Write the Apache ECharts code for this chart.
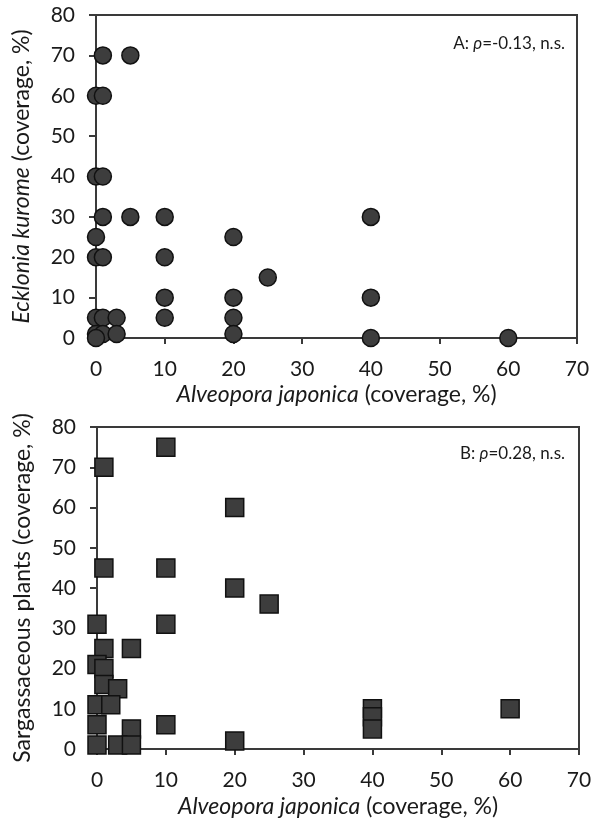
<!DOCTYPE html>
<html>
<head>
<meta charset="utf-8">
<script src="https://cdn.jsdelivr.net/npm/echarts@6/dist/echarts.min.js"></script>
<style>html,body{margin:0;padding:0;background:#fff}#c{width:600px;height:825px}</style>
</head>
<body>
<div id="c"></div>
<script>
// Panel A: Alveopora japonica vs Ecklonia kurome coverage (%)
const aX = [1, 5, 0, 1, 0, 1, 1, 5, 10, 40, 0, 20, 0, 1, 10, 25, 10, 20, 40, 0, 1, 3, 10, 20, 0, 1, 3, 20, 0, 40, 60];
const aY = [70, 70, 60, 60, 40, 40, 30, 30, 30, 30, 25, 25, 20, 20, 20, 15, 10, 10, 10, 5, 5, 5, 5, 5, 1, 1, 1, 1, 0, 0, 0];
// Panel B: Alveopora japonica vs Sargassaceous plants coverage (%)
const bX = [1, 10, 20, 1, 10, 20, 25, 0, 10, 1, 5, 0, 1, 1, 3, 0, 2, 0, 10, 5, 0, 3, 5, 20, 40, 40, 40, 60];
const bY = [70, 75, 60, 45, 45, 40, 36, 31, 31, 25, 25, 21, 20, 16, 15, 11, 11, 6, 6, 5, 1, 1, 1, 2, 10, 8, 5, 10];
const xTicks = [0, 10, 20, 30, 40, 50, 60, 70];
const yTicks = [0, 10, 20, 30, 40, 50, 60, 70, 80];
const annA = 'A: ';
const annB = 'B: ';
const rhoA = '-0.13';
const rhoB = '0.28';

const FONT = 'Lato';
const TXT = '#1a1a1a';
const AX = '#3a3a3a';
const NAME_FS = 23;
const TICK_FS = 21;
const ANN_FS = 17;

function pairs(xs, ys) { return xs.map((x, i) => [x, ys[i]]); }

function xAxis(gi, gap) {
  return {
    gridIndex: gi, type: 'value', min: xTicks[0], max: xTicks[xTicks.length - 1], interval: 10,
    name: '{i|Alveopora japonica} (coverage, %)', nameLocation: 'middle', nameGap: gap,
    nameTextStyle: { fontFamily: FONT, fontSize: NAME_FS, color: TXT,
      rich: { i: { fontStyle: 'italic', fontFamily: FONT, fontSize: NAME_FS, color: TXT } } },
    axisLine: { show: true, onZero: false, lineStyle: { color: AX, width: 2 } },
    axisTick: { show: true, inside: false, length: 6, lineStyle: { color: AX, width: 2 } },
    axisLabel: { fontFamily: FONT, fontSize: TICK_FS, color: TXT, margin: 21 },
    splitLine: { show: false }
  };
}
function yAxis(gi, name) {
  return {
    gridIndex: gi, type: 'value', min: yTicks[0], max: yTicks[yTicks.length - 1], interval: 10,
    name: name, nameLocation: 'middle', nameGap: 63,
    nameTextStyle: { fontFamily: FONT, fontSize: NAME_FS, color: TXT,
      rich: { i: { fontStyle: 'italic', fontFamily: FONT, fontSize: NAME_FS, color: TXT } } },
    axisLine: { show: true, onZero: false, lineStyle: { color: AX, width: 2 } },
    axisTick: { show: true, inside: false, length: 7, lineStyle: { color: AX, width: 2 } },
    axisLabel: { fontFamily: FONT, fontSize: TICK_FS, color: TXT, margin: 21 },
    splitLine: { show: false }
  };
}

const chart = echarts.init(document.getElementById('c'), null, { renderer: 'canvas' });
chart.setOption({
  animation: false,
  backgroundColor: '#fff',
  grid: [
    { left: 96, top: 15, width: 481, height: 323, show: true, borderColor: AX, borderWidth: 2, backgroundColor: 'transparent' },
    { left: 97, top: 427, width: 482, height: 322, show: true, borderColor: AX, borderWidth: 2, backgroundColor: 'transparent' }
  ],
  xAxis: [xAxis(0, 45), xAxis(1, 46)],
  yAxis: [yAxis(0, '{i|Ecklonia kurome} (coverage, %)'), yAxis(1, 'Sargassaceous plants (coverage, %)')],
  series: [
    { type: 'scatter', xAxisIndex: 0, yAxisIndex: 0, data: pairs(aX, aY), symbol: 'circle', symbolSize: 17,
      itemStyle: { color: '#3d3d3d', borderColor: '#111', borderWidth: 1.5, opacity: 1 } },
    { type: 'scatter', xAxisIndex: 1, yAxisIndex: 1, data: pairs(bX, bY), symbol: 'rect', symbolSize: 18,
      itemStyle: { color: '#3d3d3d', borderColor: '#111', borderWidth: 1.5, opacity: 1 } }
  ],
  graphic: [
    { type: 'text', right: 35, top: 35, style: { text: annA + '{i|ρ}=' + rhoA + ', n.s.', fontFamily: FONT, fontSize: ANN_FS, fill: TXT,
      rich: { i: { fontStyle: 'italic', fontFamily: FONT, fontSize: ANN_FS, fill: TXT } } } },
    { type: 'text', right: 35, top: 445, style: { text: annB + '{i|ρ}=' + rhoB + ', n.s.', fontFamily: FONT, fontSize: ANN_FS, fill: TXT,
      rich: { i: { fontStyle: 'italic', fontFamily: FONT, fontSize: ANN_FS, fill: TXT } } } }
  ]
});
</script>
</body>
</html>
